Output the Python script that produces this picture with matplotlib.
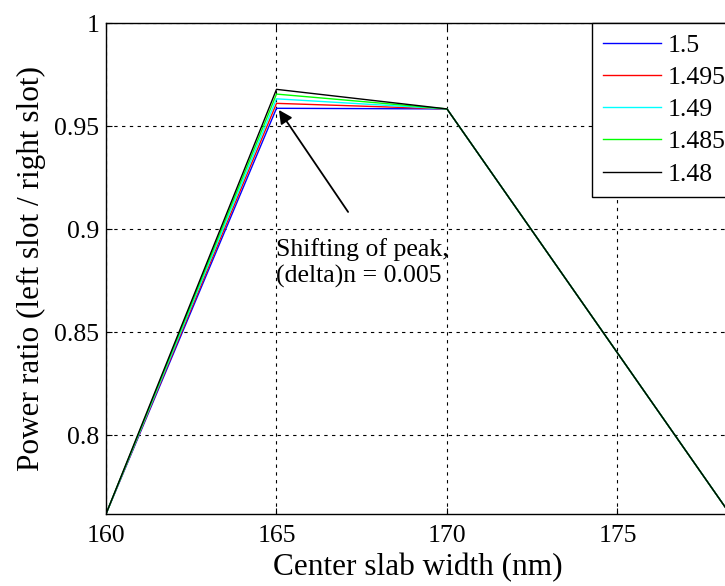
import matplotlib as mpl
import matplotlib.pyplot as plt

mpl.rcParams['font.family'] = ['Liberation Serif', 'DejaVu Serif']

# center slab width (nm)
width = [160, 165, 170, 178.3]

# power ratio for each refractive index
n_labels = ['1.5', '1.495', '1.49', '1.485', '1.48']
ratio_150 = [0.7617, 0.9586, 0.9583, 0.7617]
ratio_1495 = [0.7617, 0.9610, 0.9583, 0.7617]
ratio_149 = [0.7617, 0.9632, 0.9583, 0.7617]
ratio_1485 = [0.7617, 0.9655, 0.9583, 0.7617]
ratio_148 = [0.7617, 0.9678, 0.9583, 0.7617]
colors = ['#0000ff', '#ff0000', '#00ffff', '#00ff00', '#000000']

fig = plt.figure(figsize=(7.25, 5.86), dpi=100)
ax = fig.add_axes([106/725, 1-514/586, 624/725, 491/586])

series = [ratio_150, ratio_1495, ratio_149, ratio_1485, ratio_148]
for vals, lab, c in zip(series, n_labels, colors):
    ax.plot(width, vals, color=c, lw=1.0, label=lab)

ax.set_xlim(160, 178.3)
ax.set_ylim(0.7617, 1.0)
ax.set_xticks([160, 165, 170, 175])
ax.set_yticks([0.8, 0.85, 0.9, 0.95, 1])
ax.set_yticklabels(['0.8', '0.85', '0.9', '0.95', '1'])
ax.grid(True, color='black', linestyle=(0, (3, 4)), lw=0.8)
ax.tick_params(direction='in', top=True, right=True, length=4,
               labelsize=18.5, pad=5)
ax.tick_params(axis='x', pad=8)
for s in ax.spines.values():
    s.set_linewidth(1.0)

ax.set_xlabel('Center slab width (nm)', fontsize=22.5, labelpad=4)
ax.set_ylabel('Power ratio (left slot / right slot)', fontsize=22.5,
              labelpad=6)

ax.text(164.98, 0.8955, 'Shifting of peak,\n(delta)n = 0.005',
        fontsize=18.5, ha='left', va='top', linespacing=1.2)
ax.annotate('', xy=(165.07, 0.9578), xytext=(167.1, 0.9083),
            arrowprops=dict(arrowstyle='-|>', color='black', lw=1.3,
                            mutation_scale=20, shrinkA=0, shrinkB=0))

leg = ax.legend(loc='upper left', bbox_to_anchor=(592/725, 1-23/586),
                bbox_transform=fig.transFigure, borderaxespad=0,
                fancybox=False, edgecolor='black', framealpha=1,
                fontsize=18.5, handlelength=2.25, handletextpad=0.27,
                labelspacing=0.36, borderpad=0.42)
leg.get_frame().set_linewidth(1.0)

fig.savefig('out.png', dpi=100)
